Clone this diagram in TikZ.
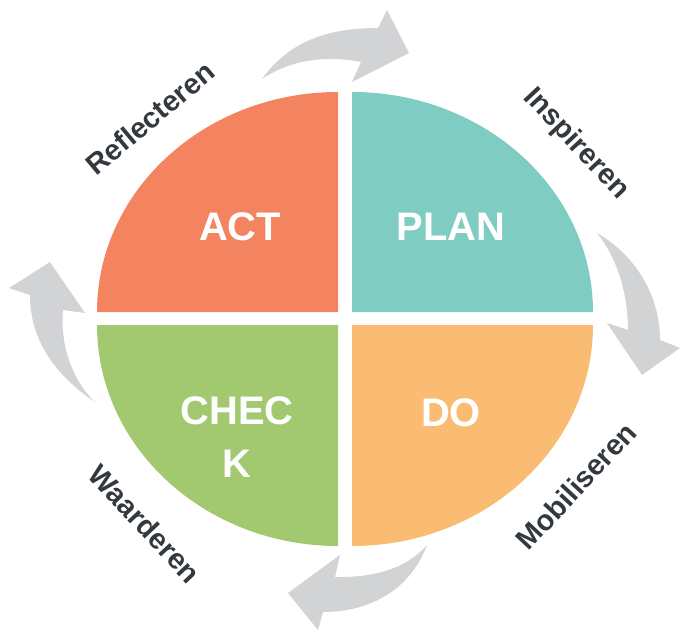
\documentclass[tikz,border=0pt]{standalone}
\usepackage{fontspec}
\setmainfont{Liberation Sans}
\definecolor{actc}{HTML}{F4845F}
\definecolor{planc}{HTML}{7FCCC3}
\definecolor{checkc}{HTML}{A2C96F}
\definecolor{doc}{HTML}{F9BC72}
\definecolor{arrowc}{HTML}{D1D3D4}
\definecolor{txtc}{HTML}{33393E}
\begin{document}
\begin{tikzpicture}[x=1bp,y=-1bp,
  bigtxt/.style={text=white,font=\bfseries\fontsize{40}{53}\selectfont,align=center,inner sep=0pt},
  sidetxt/.style={text=txtc,font=\bfseries\fontsize{29}{34}\selectfont,inner sep=0pt},
  garrow/.style={fill=arrowc,draw=none}]
\useasboundingbox (0,0) rectangle (681,632);
% quadrants
\fill[actc] (338,312) -- (97,312) arc[start angle=180,end angle=270,x radius=241,y radius=220] -- cycle;
\fill[planc] (352,312) -- (352,92) arc[start angle=270,end angle=360,x radius=241,y radius=220] -- cycle;
\fill[checkc] (338,325) -- (338,546) arc[start angle=90,end angle=180,x radius=241,y radius=221] -- cycle;
\fill[doc] (352,325) -- (593,325) arc[start angle=0,end angle=90,x radius=241,y radius=221] -- cycle;
% labels
\node[bigtxt] (act) at (240,227) {ACT};
\node[bigtxt] (plan) at (451,227) {PLAN};
\node[bigtxt] (check) at (237,437) {CHEC\\K};
\node[bigtxt] (do) at (451,413) {DO};
% arrows
\fill[garrow] (262,79) .. controls (290,40) and (330,28) .. (378,28) -- (387,10) -- (409,53) -- (352,82) -- (361,62) .. controls (325,55) and (290,60) .. (262,79) -- cycle;
\fill[garrow] (597,233) .. controls (635,255) and (660,295) .. (660,340) -- (680,348) -- (642,375) -- (607,323) -- (628,330) .. controls (628,290) and (615,255) .. (597,233) -- cycle;
\fill[garrow] (427,545) .. controls (410,590) and (370,612) .. (323,612) -- (318,630) -- (288,593) -- (340,555) -- (335,577) .. controls (380,578) and (410,565) .. (427,545) -- cycle;
\fill[garrow] (95,402) .. controls (55,375) and (30,340) .. (30,295) -- (9,288) -- (50,262) -- (85,313) -- (63,310) .. controls (60,345) and (72,380) .. (95,402) -- cycle;
% side texts
\node[sidetxt,rotate=40] (refl) at (150,118) {Reflecteren};
\node[sidetxt,rotate=-47] (insp) at (576,144) {Inspireren};
\node[sidetxt,rotate=47] (mobi) at (576,486) {Mobiliseren};
\node[sidetxt,rotate=-47] (waar) at (145,524) {Waarderen};
\end{tikzpicture}
\end{document}
